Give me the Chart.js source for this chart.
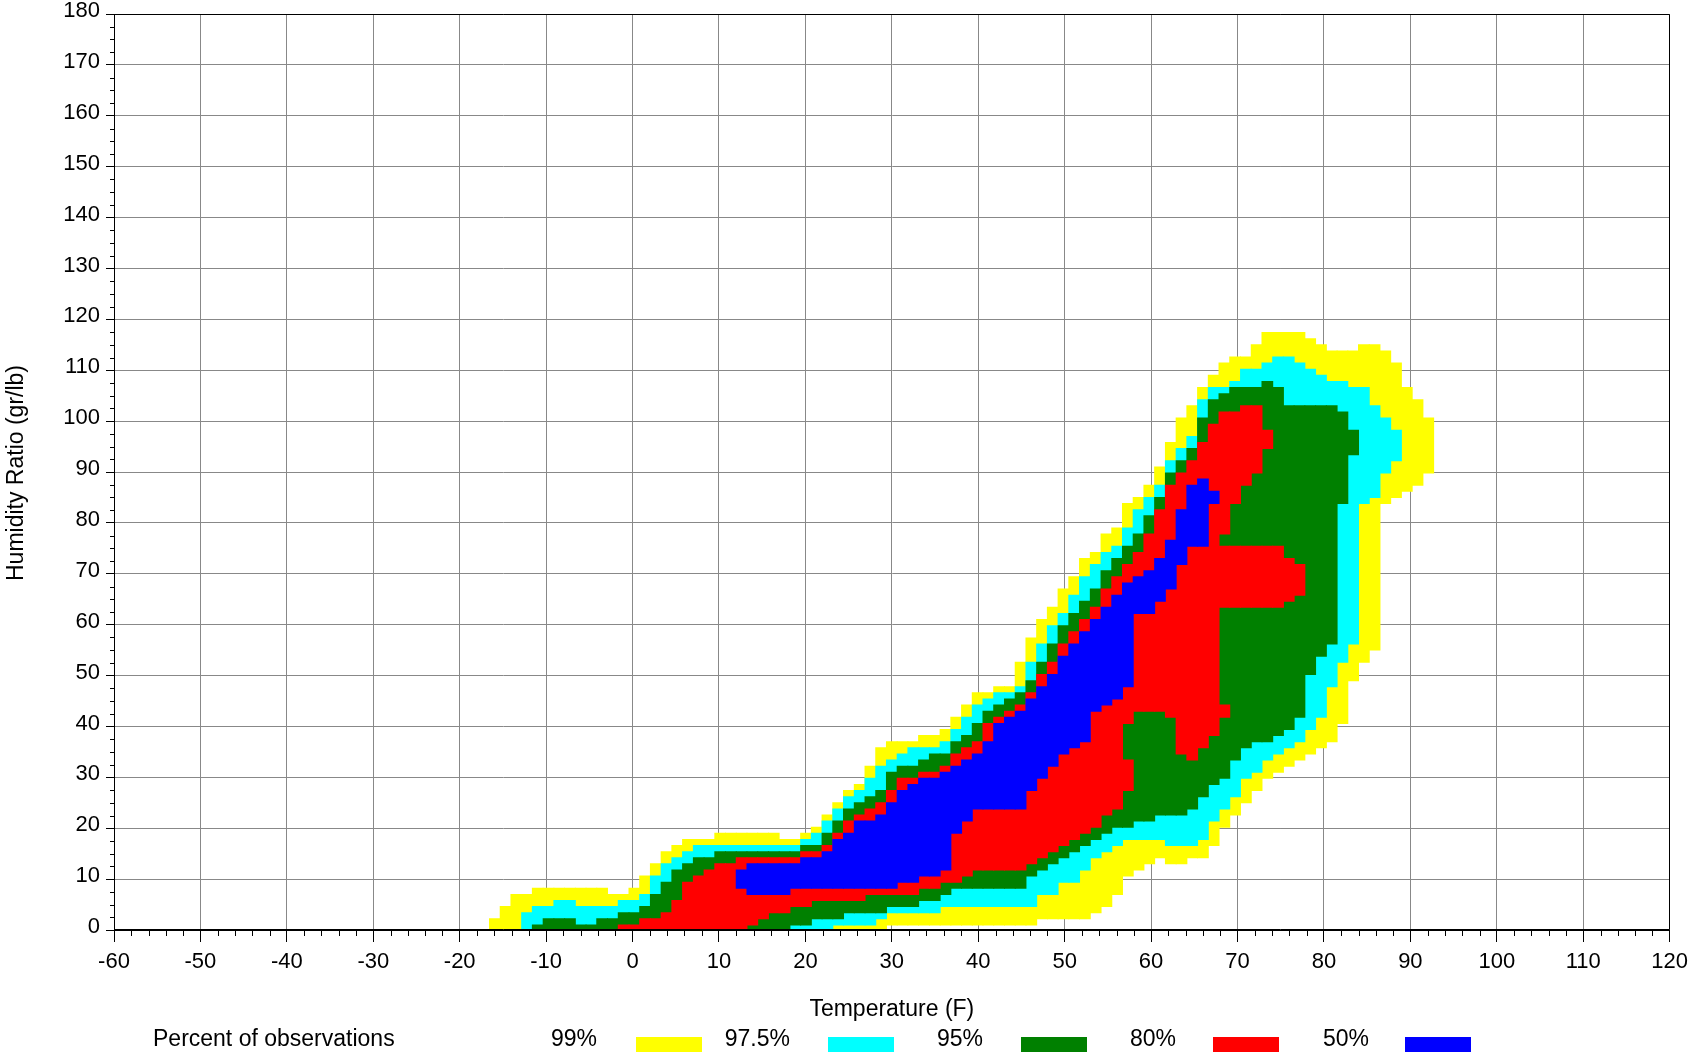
<!DOCTYPE html>
<html>
<head>
<meta charset="utf-8">
<title>Humidity ratio vs temperature</title>
<script src="https://cdn.jsdelivr.net/npm/chart.js@4.4.1/dist/chart.umd.min.js"></script>
<style>
  html, body { margin: 0; padding: 0; background: #fff; }
  canvas { display: block; }
</style>
</head>
<body>
<canvas id="chart" width="1695" height="1052"></canvas>
<script>
// temperature bins (F), bin centres
const temps = [
  -15.93, -14.69, -13.45, -12.21, -10.97, -9.72, -8.48, -7.24, -6.00, -4.76,
  -3.52, -2.28, -1.03, 0.21, 1.45, 2.69, 3.93, 5.17, 6.41, 7.66,
  8.90, 10.14, 11.38, 12.62, 13.86, 15.10, 16.34, 17.59, 18.83, 20.07,
  21.31, 22.55, 23.79, 25.03, 26.28, 27.52, 28.76, 30.00, 31.24, 32.48,
  33.72, 34.97, 36.21, 37.45, 38.69, 39.93, 41.17, 42.41, 43.66, 44.90,
  46.14, 47.38, 48.62, 49.86, 51.10, 52.34, 53.59, 54.83, 56.07, 57.31,
  58.55, 59.79, 61.03, 62.28, 63.52, 64.76, 66.00, 67.24, 68.48, 69.72,
  70.97, 72.21, 73.45, 74.69, 75.93, 77.17, 78.41, 79.66, 80.90, 82.14,
  83.38, 84.62, 85.86, 87.10, 88.34, 89.59, 90.83, 92.07
];

// humidity ratio range (gr/lb) covered by each band in each bin, as lo,hi pairs
const band99 = [
  [0,2.2], [0,4.6], [0,7.0], [0,7.0], [0,8.2], [0,8.2], [0,8.2], [0,8.2], [0,8.2], [0,8.2],
  [0,8.2], [0,7.0], [0,7.0], [0,8.2], [0,10.6], [0,13.0], [0,15.4], [0,16.6], [0,17.8], [0,17.8],
  [0,17.8], [0,19.0], [0,19.0], [0,19.0], [0,19.0], [0,19.0], [0,19.0], [0,17.8], [0,17.8], [0,19.0],
  [0,20.2], [0,22.6], [0,25.0], [0,27.4], [0,28.6], [0,32.2], [0,35.8], [1.0,37.0], [1.0,37.0], [1.0,37.0],
  [1.0,38.2], [1.0,38.2], [1.0,39.4], [1.0,41.8], [1.0,44.2], [1.0,46.6], [1.0,46.6], [1.0,47.8], [1.0,47.8], [1.0,52.6],
  [1.0,57.4], [2.2,61.0], [2.2,63.4], [2.2,67.0], [2.2,69.4], [2.2,73.0], [3.4,74.2], [4.6,77.8], [7.0,79.0], [10.6,83.8],
  [11.8,85.0], [13.0,87.4], [14.2,91.0], [13.0,95.8], [13.0,100.6], [14.2,103.0], [14.2,106.6], [16.6,109.0], [20.2,111.4], [22.6,112.6],
  [25.0,112.6], [27.4,115.0], [29.8,117.4], [31.0,117.4], [32.2,117.4], [33.4,117.4], [34.6,116.2], [35.8,115.0], [37.0,113.8], [40.6,113.8],
  [49.0,113.8], [52.6,115.0], [55.0,115.0], [83.8,113.8], [85.0,111.4], [86.2,106.6], [87.4,104.2], [89.8,100.6]
];
const band975 = [
  [], [], [], [0,3.4], [0,4.6], [0,4.6], [0,5.8], [0,5.8], [0,4.6], [0,4.6],
  [0,4.6], [0,4.6], [0,5.8], [0,5.8], [0,7.0], [0,10.6], [0,13.0], [0,14.2], [0,15.4], [0,16.6],
  [0,16.6], [0,16.6], [0,16.6], [0,16.6], [0,16.6], [0,16.6], [0,16.6], [0,16.6], [0,16.6], [0,17.8],
  [0,19.0], [0,21.4], [1.0,23.8], [1.0,26.2], [1.0,27.4], [1.0,29.8], [2.2,32.2], [3.4,33.4], [3.4,34.6], [3.4,35.8],
  [3.4,35.8], [3.4,35.8], [4.6,37.0], [4.6,39.4], [4.6,41.8], [4.6,44.2], [4.6,45.4], [4.6,46.6], [4.6,46.6], [4.6,47.8],
  [4.6,52.6], [7.0,56.2], [7.0,59.8], [9.4,62.2], [9.4,65.8], [11.8,69.4], [14.2,71.8], [15.4,74.2], [16.6,75.4], [17.8,79.0],
  [17.8,82.6], [17.8,85.0], [17.8,87.4], [16.6,92.2], [16.6,94.6], [16.6,97.0], [17.8,104.2], [21.4,106.6], [23.8,106.6], [26.2,107.8],
  [29.8,110.2], [31.0,110.2], [33.4,111.4], [34.6,112.6], [35.8,112.6], [37.0,111.4], [39.4,110.2], [41.8,109.0], [47.8,107.8], [52.6,107.8],
  [56.2,106.6], [83.8,106.6], [85.0,103.0], [89.8,100.6], [92.2,98.2], [], [], []
];
const band95 = [
  [], [], [], [], [0,1.0], [0,2.2], [0,2.2], [0,2.2], [0,1.0], [0,1.0],
  [0,2.2], [0,2.2], [0,3.4], [0,3.4], [0,4.6], [0,7.0], [0,9.4], [0,11.8], [0,13.0], [0,14.2],
  [0,14.2], [0,15.4], [0,15.4], [0,15.4], [0,15.4], [0,15.4], [0,15.4], [0,15.4], [1.0,15.4], [1.0,16.6],
  [2.2,16.6], [2.2,19.0], [2.2,21.4], [3.4,23.8], [3.4,25.0], [3.4,26.2], [3.4,27.4], [4.6,31.0], [4.6,32.2], [4.6,32.2],
  [5.8,33.4], [5.8,34.6], [7.0,34.6], [8.2,37.0], [8.2,38.2], [8.2,40.6], [8.2,43.0], [8.2,44.2], [8.2,45.4], [8.2,46.6],
  [10.6,49.0], [11.8,52.6], [13.0,56.2], [14.2,59.8], [15.4,62.2], [16.6,64.6], [17.8,67.0], [19.0,70.6], [20.2,73.0], [20.2,75.4],
  [21.4,77.8], [21.4,81.4], [22.6,85.0], [22.6,89.8], [22.6,92.2], [23.8,94.6], [26.2,100.6], [28.6,104.2], [29.8,105.4], [33.4,106.6],
  [35.8,106.6], [37.0,106.6], [37.0,107.8], [38.2,106.6], [39.4,103.0], [41.8,103.0], [50.2,103.0], [53.8,103.0], [56.2,103.0], [83.8,101.8],
  [93.4,98.2], [], [], [], [], [], [], []
];
const band80 = [
  [], [], [], [], [], [], [], [], [], [],
  [], [], [0,1.0], [0,1.0], [0,2.2], [0,2.2], [0,3.4], [0,5.8], [0,9.4], [0,10.6],
  [0,11.8], [0,13.0], [0,13.0], [0,14.2], [1.0,14.2], [2.2,14.2], [3.4,14.2], [3.4,14.2], [4.6,14.2], [4.6,15.4],
  [5.8,15.4], [5.8,16.6], [5.8,19.0], [5.8,21.4], [5.8,22.6], [7.0,23.8], [7.0,25.0], [7.0,27.4], [7.0,29.8], [7.0,29.8],
  [8.2,31.0], [8.2,31.0], [9.4,32.2], [9.4,34.6], [10.6,35.8], [11.8,37.0], [11.8,40.6], [11.8,41.8], [11.8,43.0], [11.8,44.2],
  [13.0,46.6], [14.2,50.2], [15.4,52.6], [16.6,56.2], [17.8,58.6], [19.0,61.0], [20.2,63.4], [22.6,67.0], [23.8,69.4], [27.4,33.4, 40.6,71.8],
  [43.0,74.2], [43.0,77.8], [43.0,82.6], [41.8,87.4], [34.6,89.8], [33.4,92.2], [35.8,95.8], [38.2,99.4], [41.8,44.2, 63.4,75.4, 77.8,101.8], [63.4,75.4, 83.8,101.8],
  [63.4,75.4, 87.4,103.0], [63.4,75.4, 89.8,103.0], [63.4,75.4, 94.6,98.2], [63.4,75.4], [64.6,73.0], [65.8,71.8], [], [], [], [],
  [], [], [], [], [], [], [], []
];
const band50 = [
  [], [], [], [], [], [], [], [], [], [],
  [], [], [], [], [], [], [], [], [], [],
  [], [], [], [8.2,11.8], [7.0,13.0], [7.0,13.0], [7.0,13.0], [7.0,13.0], [8.2,13.0], [8.2,14.2],
  [8.2,14.2], [8.2,15.4], [8.2,17.8], [8.2,19.0], [8.2,21.4], [8.2,21.4], [8.2,22.6], [8.2,25.0], [9.4,27.4], [9.4,28.6],
  [10.6,29.8], [10.6,29.8], [11.8,31.0], [19.0,32.2], [21.4,33.4], [23.8,34.6], [23.8,37.0], [23.8,40.6], [23.8,41.8], [23.8,43.0],
  [27.4,45.4], [29.8,47.8], [32.2,50.2], [34.6,53.8], [35.8,56.2], [37.0,58.6], [43.0,61.0], [44.2,63.4], [45.4,65.8], [47.8,68.2],
  [62.2,69.4], [62.2,70.6], [64.6,73.0], [67.0,76.6], [71.8,82.6], [75.4,87.4], [75.4,88.6], [83.8,86.2], [], [],
  [], [], [], [], [], [], [], [], [], [],
  [], [], [], [], [], [], [], []
];

const bandLabels = ['99%', '97.5%', '95%', '80%', '50%'];
const bandColors = ['#ffff00', '#00ffff', '#008000', '#ff0000', '#0000ff'];
const bands = [band99, band975, band95, band80, band50];

const FONT = '"Liberation Sans", Arial, Helvetica, sans-serif';

function toBars(band) {
  const bars = [];
  band.forEach((pairs, i) => {
    for (let j = 0; j < pairs.length; j += 2) {
      bars.push({ x: temps[i], y: [pairs[j], pairs[j + 1]] });
    }
  });
  return bars;
}

// frame, minor ticks, axis titles and the legend row
const decorations = {
  id: 'decorations',
  afterDraw(chart) {
    const { ctx, chartArea: area, scales: { x, y } } = chart;
    ctx.save();
    ctx.strokeStyle = '#000';
    ctx.lineWidth = 1;
    ctx.beginPath();
    ctx.rect(Math.round(area.left) + 0.5, Math.round(area.top) + 0.5,
      Math.round(area.right - area.left) - 1, Math.round(area.bottom - area.top) - 1);
    for (let v = x.min; v <= x.max; v += 2) {
      if (v % 10 === 0) continue;
      const px = Math.round(x.getPixelForValue(v)) + 0.5;
      ctx.moveTo(px, area.bottom);
      ctx.lineTo(px, area.bottom + 6);
    }
    for (let v = y.min; v <= y.max; v += 2.5) {
      if (v % 10 === 0) continue;
      const py = Math.round(y.getPixelForValue(v)) + 0.5;
      ctx.moveTo(area.left, py);
      ctx.lineTo(area.left - 4, py);
    }
    ctx.stroke();

    ctx.fillStyle = '#000';
    ctx.font = '23px ' + FONT;
    ctx.textBaseline = 'alphabetic';
    ctx.textAlign = 'center';
    ctx.fillText('Temperature (F)', (area.left + area.right) / 2, 1016);
    ctx.save();
    ctx.translate(23, 473);
    ctx.rotate(-Math.PI / 2);
    ctx.fillText('Humidity Ratio (gr/lb)', 0, 0);
    ctx.restore();

    ctx.textAlign = 'left';
    ctx.fillText('Percent of observations', 153, 1046);
    ctx.textAlign = 'right';
    bandLabels.forEach((label, i) => {
      ctx.fillStyle = '#000';
      ctx.fillText(label, 597 + 193 * i, 1046);
      ctx.fillStyle = bandColors[i];
      ctx.fillRect(Math.round(636 + 192.3 * i), 1037, 66, 20);
    });
    ctx.restore();
  }
};

new Chart(document.getElementById('chart'), {
  type: 'bar',
  data: {
    datasets: bands.map((band, i) => ({
      label: bandLabels[i],
      data: toBars(band),
      backgroundColor: bandColors[i],
      borderWidth: 0,
      barPercentage: 1,
      categoryPercentage: 1,
      grouped: false,
      inflateAmount: 0.5,
      order: bands.length - i
    }))
  },
  options: {
    responsive: false,
    animation: false,
    events: [],
    layout: { padding: { top: 14, right: 25, bottom: 0, left: 0 } },
    plugins: {
      legend: { display: false },
      tooltip: { enabled: false }
    },
    scales: {
      x: {
        type: 'linear',
        min: -60,
        max: 120,
        offset: false,
        z: 1,
        grid: { color: '#888', lineWidth: 1, tickColor: '#000', tickLength: 12, offset: false },
        border: { color: '#000', width: 1 },
        ticks: { stepSize: 10, color: '#000', font: { family: FONT, size: 22 }, padding: 7, maxRotation: 0, autoSkip: false },
        afterFit(scale) { scale.height = 122; }
      },
      y: {
        type: 'linear',
        min: 0,
        max: 180,
        z: 1,
        grid: { color: '#888', lineWidth: 1, tickColor: '#000', tickLength: 8 },
        border: { color: '#000', width: 1 },
        ticks: { stepSize: 10, color: '#000', font: { family: FONT, size: 22 }, padding: 6, labelOffset: -3 },
        afterFit(scale) {
          scale.width = 114;
          scale.paddingTop = 0;
          scale.paddingBottom = 0;
        }
      }
    }
  },
  plugins: [decorations]
});
</script>
</body>
</html>
